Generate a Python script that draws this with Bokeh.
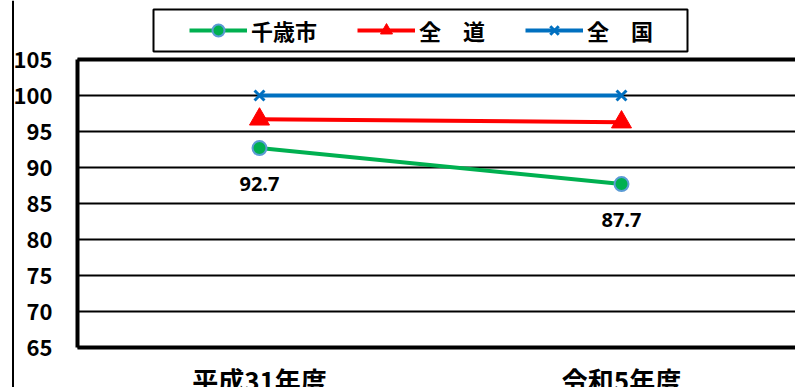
from bokeh.plotting import figure
from bokeh.models import (Legend, LegendItem, FixedTicker, Span, Range1d, Grid,
                          BoxAnnotation)
from bokeh.core.properties import value
from bokeh.embed import file_html
from bokeh.resources import INLINE

# ---- data ----
categories = ["平成31年度", "令和5年度"]
series_names = ["千歳市", "全　道", "全　国"]
chitose = [92.7, 87.7]
hokkaido = [96.7, 96.3]
national = [100.0, 100.0]
y_ticks = [65, 70, 75, 80, 85, 90, 95, 100, 105]

JP = "Noto Sans CJK JP"
GREEN = "#00B050"
RED = "#FF0000"
BLUE = "#0070C0"

W, H = 795, 387
xs = list(range(len(categories)))

# The frame covers the whole canvas; the value range 65-105 occupies the
# band between the legend and the category labels.
PX_X = 362.0          # pixels per category step
PX_Y = 7.2            # pixels per value unit
X0_PX = 259.0         # pixel column of the first category
Y65_PX = 347.0        # pixel row of the value 65


def xd(px):
    return (px - X0_PX) / PX_X


def yd(py):
    return 65 + (Y65_PX - py) / PX_Y


x_start, x_end = xd(0), xd(W)
y_start, y_end = yd(H), yd(0)
x_axis_pos = xd(77)

p = figure(width=W, height=H, output_backend="svg", toolbar_location=None,
           x_range=Range1d(x_start, x_end), y_range=Range1d(y_start, y_end),
           min_border_left=0, min_border_right=0, min_border_top=0,
           min_border_bottom=0)
p.outline_line_color = None
p.background_fill_color = "white"
p.border_fill_color = "white"

# horizontal gridlines, only right of the value axis
p.xgrid.visible = False
p.ygrid.ticker = FixedTicker(ticks=y_ticks)
p.ygrid.grid_line_color = "black"
p.ygrid.grid_line_width = 2
p.ygrid.cross_bounds = (x_axis_pos, x_end)

# heavy top edge of the plot area
top_edge = Grid(dimension=1, ticker=FixedTicker(ticks=[y_ticks[-1]]),
                grid_line_color="black", grid_line_width=4,
                cross_bounds=(x_axis_pos, x_end))
p.add_layout(top_edge)

# value axis
p.yaxis.fixed_location = x_axis_pos
p.yaxis.bounds = (y_ticks[0], y_ticks[-1])
p.yaxis.ticker = FixedTicker(ticks=y_ticks)
p.yaxis.axis_line_width = 4
p.yaxis.axis_line_color = "black"
p.yaxis.major_tick_line_color = None
p.yaxis.minor_tick_line_color = None
p.yaxis.major_label_standoff = 19
p.yaxis.major_label_text_font = JP
p.yaxis.major_label_text_font_style = "bold"
p.yaxis.major_label_text_font_size = "22px"
p.yaxis.major_label_text_color = "black"

# category axis
p.xaxis.fixed_location = y_ticks[0]
p.xaxis.bounds = (x_axis_pos, x_end)
p.xaxis.ticker = FixedTicker(ticks=xs)
p.xaxis.major_label_overrides = {i: c for i, c in enumerate(categories)}
p.xaxis.axis_line_width = 4
p.xaxis.axis_line_color = "black"
p.xaxis.major_tick_line_color = None
p.xaxis.minor_tick_line_color = None
p.xaxis.major_label_standoff = 7
p.xaxis.major_label_text_font = JP
p.xaxis.major_label_text_font_style = "bold"
p.xaxis.major_label_text_font_size = "26px"
p.xaxis.major_label_text_color = "black"

# outer chart edge on the left
p.add_layout(Span(location=xd(12.5), dimension="height", line_color="black",
                  line_width=2))

# series
g_line = p.line(xs, chitose, line_color=GREEN, line_width=4)
g_pts = p.scatter(xs, chitose, marker="circle", size=14, fill_color=GREEN,
                  line_color="#5B9BD5", line_width=2)
r_line = p.line(xs, hokkaido, line_color=RED, line_width=4)
r_pts = p.scatter(xs, hokkaido, marker="triangle", size=20, fill_color=RED,
                  line_color=RED)
b_line = p.line(xs, national, line_color=BLUE, line_width=4)
b_pts = p.scatter(xs, national, marker="x", size=14, line_color=BLUE, line_width=3)

# value labels for the city series
p.text(xs, chitose, text=[f"{v:.1f}" for v in chitose], y_offset=36,
       text_align="center", text_baseline="middle",
       text_font=value("Open Sans"), text_font_style="bold",
       text_font_size="20px", text_color="black")

# legend frame
p.add_layout(BoxAnnotation(left=xd(153), right=xd(687), top=yd(9), bottom=yd(51),
                           fill_color="white", fill_alpha=1,
                           line_color="black", line_alpha=1, line_width=2))

legend = Legend(items=[
    LegendItem(label=series_names[0], renderers=[g_line, g_pts]),
    LegendItem(label=series_names[1], renderers=[r_line, r_pts]),
    LegendItem(label=series_names[2], renderers=[b_line, b_pts]),
], orientation="horizontal", location=(189, H - 46))
legend.border_line_color = None
legend.background_fill_alpha = 0
legend.label_text_font = JP
legend.label_text_font_style = "bold"
legend.label_text_font_size = "22px"
legend.label_text_color = "black"
legend.glyph_width = 58
legend.glyph_height = 30
legend.label_standoff = 4
legend.spacing = 40
legend.padding = 8
legend.margin = 0
p.add_layout(legend)

with open("out.html", "w") as f:
    f.write(file_html(p, INLINE))
